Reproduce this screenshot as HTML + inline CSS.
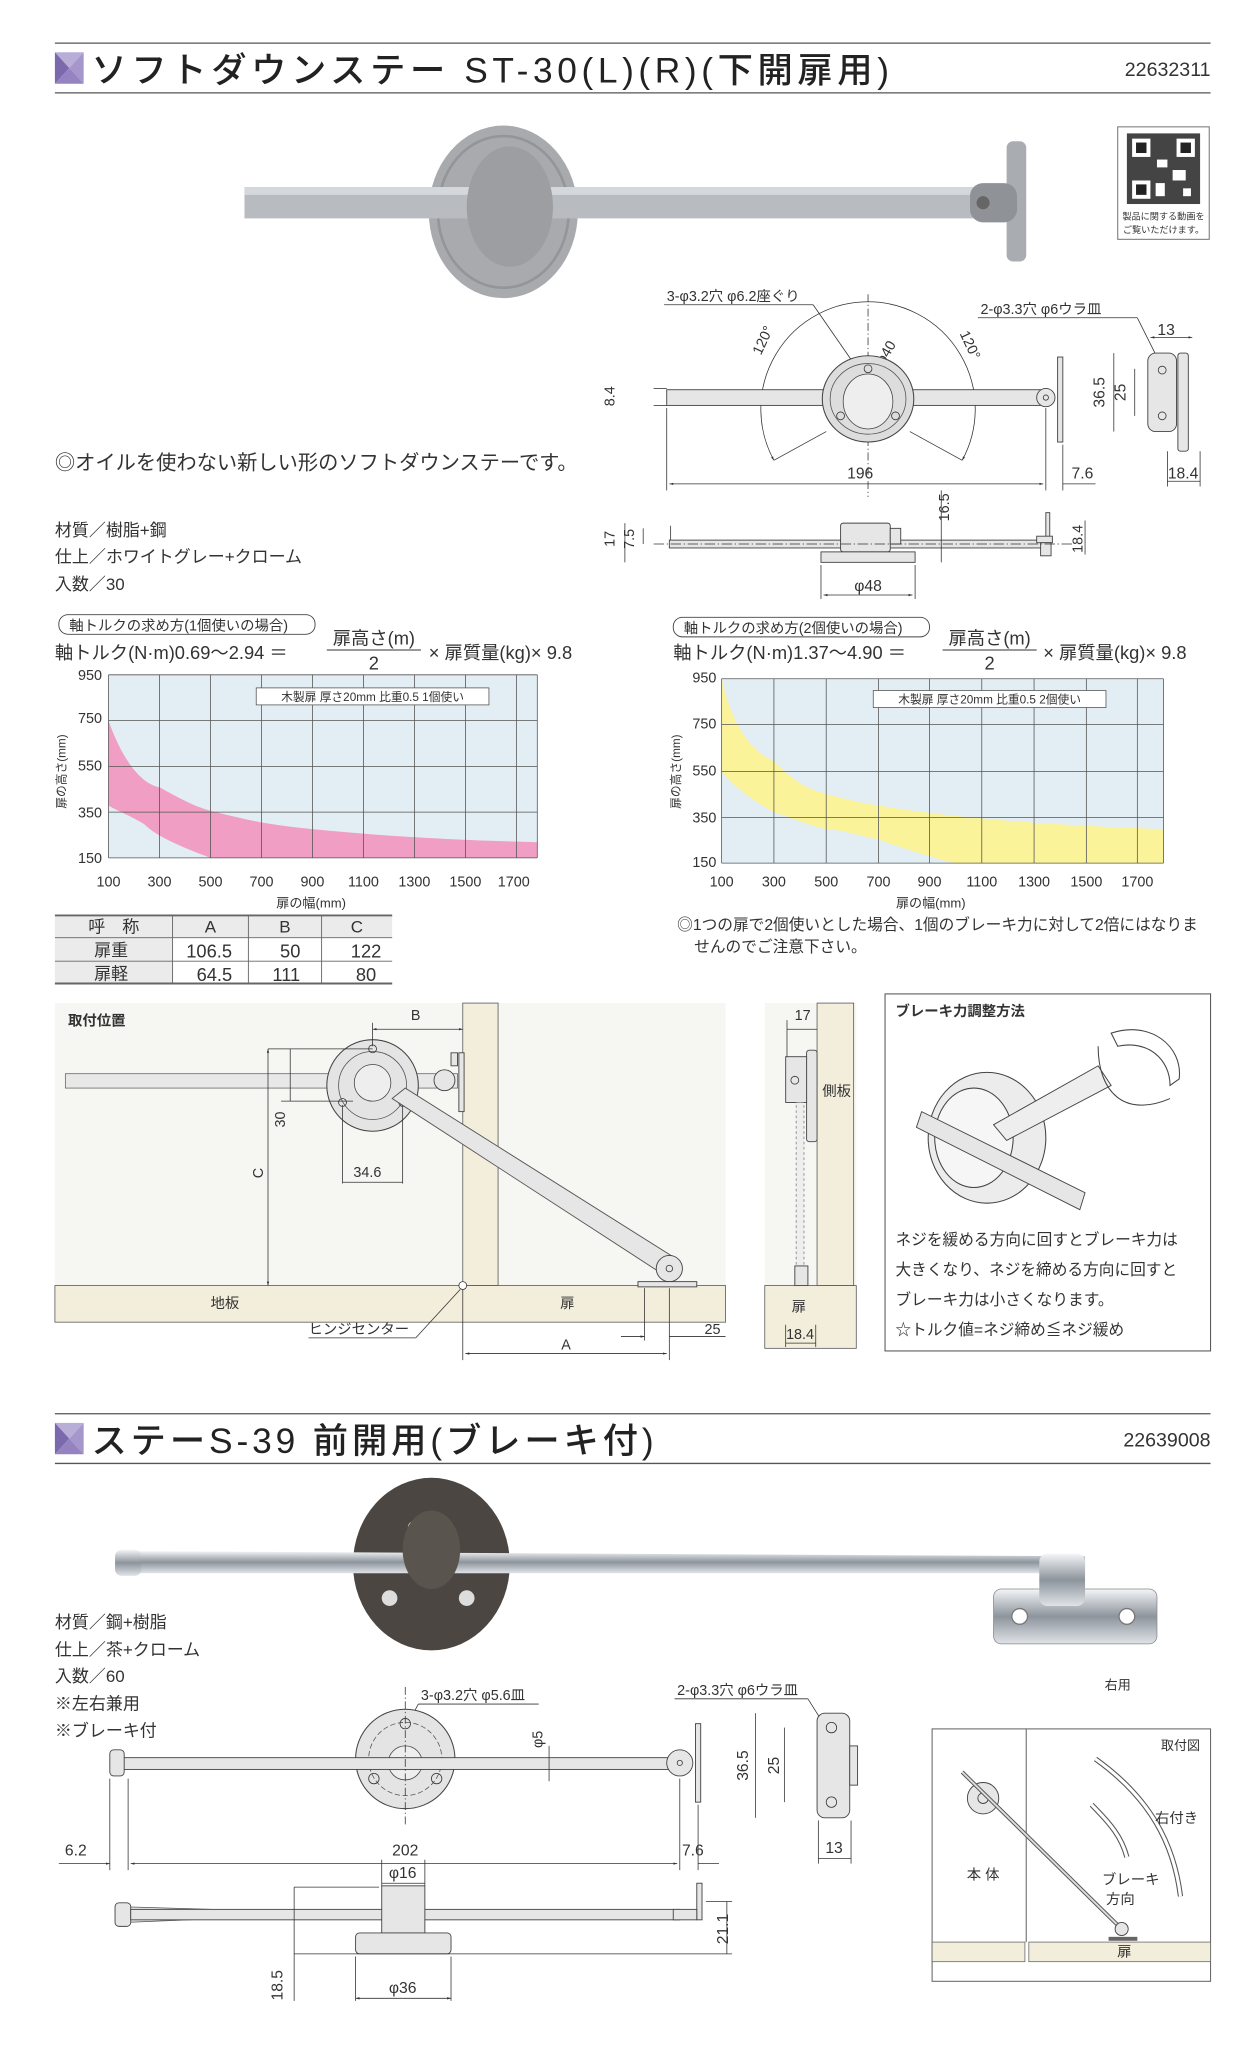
<!DOCTYPE html>
<html><head><meta charset="utf-8"><style>
html,body{margin:0;padding:0;background:#fff}
svg{display:block}
text{font-family:"Liberation Sans","Noto Sans CJK JP",sans-serif;fill:#333}
.d{stroke:#333;stroke-width:.6;fill:none}
.p{fill:#e6e6e6;stroke:#444;stroke-width:.7}
</style></head><body>
<svg width="1255" height="2048" viewBox="0 0 960 1566" preserveAspectRatio="none" xmlns="http://www.w3.org/2000/svg">
<defs>
<linearGradient id="chr" x1="0" y1="0" x2="0" y2="1"><stop offset="0" stop-color="#f4f6f8"/><stop offset=".5" stop-color="#8d949c"/><stop offset="1" stop-color="#e0e4e8"/></linearGradient>
<marker id="a" viewBox="0 0 10 10" refX="10" refY="5" markerWidth="5" markerHeight="5" orient="auto-start-reverse"><path d="M0,2L10,5L0,8z" fill="#333"/></marker>
</defs>
<!-- HEADER 1 -->
<line x1="42" y1="33" x2="926" y2="33" stroke="#555" stroke-width="1"/>
<line x1="42" y1="71" x2="926" y2="71" stroke="#555" stroke-width="1"/>
<polygon points="42,40 64,40 53,52" fill="#b9aed8"/><polygon points="42,40 53,52 42,64" fill="#7c68ad"/><polygon points="64,40 64,64 53,52" fill="#a596cc"/><polygon points="42,64 64,64 53,52" fill="#9483c0"/>
<text x="70" y="63" font-size="27" textLength="610" lengthAdjust="spacing" style="fill:#222;font-weight:500">ソフトダウンステー ST-30(L)(R)(下開扉用)</text>
<text x="926" y="58" font-size="15" text-anchor="end">22632311</text>
<!-- PHOTO 1 -->
<ellipse cx="385" cy="162" rx="57" ry="66" fill="#a8aaad"/>
<ellipse cx="385" cy="162" rx="50" ry="58" fill="none" stroke="#939598" stroke-width="2"/>
<rect x="187" y="143" width="585" height="24" fill="#b8bcc1"/>
<rect x="187" y="143" width="585" height="6" fill="#d4d7db"/>
<ellipse cx="390" cy="158" rx="33" ry="46" fill="#9c9ea1"/>
<rect x="770" y="108" width="15" height="92" rx="5" fill="#a9adb2"/>
<rect x="742" y="140" width="36" height="30" rx="10" fill="#8f9398"/>
<circle cx="752" cy="155" r="5" fill="#666"/>
<!-- QR -->
<rect x="855" y="97" width="70" height="86" fill="#fff" stroke="#777" stroke-width=".8"/>
<rect x="862" y="102" width="56" height="54" fill="#444"/>
<rect x="866" y="106" width="14" height="14" fill="#fff"/><rect x="900" y="106" width="14" height="14" fill="#fff"/><rect x="866" y="138" width="14" height="14" fill="#fff"/>
<rect x="869" y="109" width="8" height="8" fill="#222"/><rect x="903" y="109" width="8" height="8" fill="#222"/><rect x="869" y="141" width="8" height="8" fill="#222"/>
<rect x="885" y="122" width="8" height="6" fill="#fff"/><rect x="897" y="130" width="10" height="8" fill="#fff"/><rect x="884" y="140" width="7" height="10" fill="#fff"/><rect x="905" y="144" width="6" height="6" fill="#fff"/>
<text x="890" y="168" font-size="7" text-anchor="middle">製品に関する動画を</text>
<text x="890" y="178" font-size="7" text-anchor="middle">ご覧いただけます。</text>
<!-- TECH DRAWING 1 -->
<text x="510" y="230" font-size="11">3-φ3.2穴 φ6.2座ぐり</text>
<line x1="508" y1="233" x2="622" y2="233" class="d"/><line x1="622" y1="233" x2="658" y2="285" class="d"/>
<path d="M592,352 A82,82 0 1 1 736,352" class="d" marker-start="url(#a)" marker-end="url(#a)"/>
<line x1="592" y1="352" x2="632" y2="330" class="d"/><line x1="736" y1="352" x2="696" y2="330" class="d"/>
<line x1="664" y1="225" x2="664" y2="380" class="d" stroke-dasharray="6,2,1,2"/>
<text x="582" y="272" font-size="11" transform="rotate(-65 582 272)">120°</text>
<text x="734" y="255" font-size="11" transform="rotate(65 734 255)">120°</text>
<text x="676" y="280" font-size="11" transform="rotate(-60 676 280)">φ40</text>
<rect x="510" y="298" width="290" height="12" class="p"/>
<ellipse cx="664" cy="305" rx="35" ry="33" fill="#ddd" stroke="#444" stroke-width=".8"/>
<ellipse cx="664" cy="305" rx="29" ry="27" fill="none" stroke="#555" stroke-width=".6"/>
<ellipse cx="664" cy="307" rx="19" ry="21" fill="#eee" stroke="#444" stroke-width=".6"/>
<circle cx="664" cy="282" r="3" class="d"/><circle cx="643" cy="318" r="3" class="d"/><circle cx="685" cy="318" r="3" class="d"/>
<circle cx="800" cy="304" r="7" class="p"/><circle cx="800" cy="304" r="2" class="d"/>
<rect x="809" y="273" width="4" height="65" class="p"/>
<line x1="500" y1="297" x2="510" y2="297" class="d"/><line x1="500" y1="310" x2="510" y2="310" class="d"/>
<text x="470" y="303" font-size="11" transform="rotate(-90 470 303)" text-anchor="middle">8.4</text>
<line x1="510" y1="312" x2="510" y2="375" class="d"/><line x1="800" y1="312" x2="800" y2="375" class="d"/><line x1="813" y1="340" x2="813" y2="375" class="d"/>
<line x1="512" y1="370" x2="798" y2="370" class="d" marker-start="url(#a)" marker-end="url(#a)"/><line x1="813" y1="370" x2="838" y2="370" class="d"/>
<text x="658" y="366" font-size="12" text-anchor="middle">196</text><text x="828" y="366" font-size="12" text-anchor="middle">7.6</text>
<text x="750" y="240" font-size="11">2-φ3.3穴 φ6ウラ皿</text>
<line x1="748" y1="243" x2="870" y2="243" class="d"/><line x1="870" y1="243" x2="890" y2="283" class="d"/>
<rect x="878" y="270" width="22" height="60" rx="6" class="p"/>
<rect x="901" y="270" width="8" height="75" rx="2" class="p"/>
<circle cx="889" cy="283" r="3" class="d"/><circle cx="889" cy="318" r="3" class="d"/>
<line x1="880" y1="258" x2="912" y2="258" class="d" marker-start="url(#a)" marker-end="url(#a)"/><text x="892" y="256" font-size="12" text-anchor="middle">13</text>
<line x1="852" y1="270" x2="852" y2="330" class="d"/><text x="845" y="300" font-size="12" transform="rotate(-90 845 300)" text-anchor="middle">36.5</text>
<line x1="868" y1="282" x2="868" y2="318" class="d"/><text x="861" y="300" font-size="12" transform="rotate(-90 861 300)" text-anchor="middle">25</text>
<line x1="893" y1="345" x2="893" y2="372" class="d"/><line x1="918" y1="345" x2="918" y2="372" class="d"/><line x1="893" y1="368" x2="918" y2="368" class="d"/><text x="905" y="366" font-size="12" text-anchor="middle">18.4</text>
<!-- side elevation -->
<path d="M513,402 L513,418 L628,418" class="d"/>
<rect x="512" y="413" width="290" height="6" class="p"/>
<rect x="643" y="400" width="38" height="22" rx="2" class="p"/><rect x="681" y="404" width="8" height="12" class="p"/>
<rect x="628" y="422" width="72" height="8" class="p"/>
<rect x="800" y="392" width="3" height="22" class="p"/><rect x="793" y="410" width="12" height="5" class="p"/><rect x="796" y="415" width="8" height="10" class="p"/>
<line x1="500" y1="416" x2="820" y2="416" class="d" stroke-dasharray="8,2,1,2"/>
<text x="470" y="412" font-size="11" transform="rotate(-90 470 412)" text-anchor="middle">17</text>
<text x="485" y="412" font-size="11" transform="rotate(-90 485 412)" text-anchor="middle">7.5</text>
<line x1="478" y1="400" x2="478" y2="430" class="d"/><line x1="492" y1="404" x2="492" y2="416" class="d"/>
<line x1="720" y1="375" x2="720" y2="430" class="d"/><text x="726" y="388" font-size="11" transform="rotate(-90 726 388)" text-anchor="middle">16.5</text>
<line x1="830" y1="398" x2="830" y2="424" class="d"/><text x="828" y="412" font-size="11" transform="rotate(-90 828 412)" text-anchor="middle">18.4</text>
<line x1="628" y1="432" x2="628" y2="458" class="d"/><line x1="700" y1="432" x2="700" y2="458" class="d"/><line x1="630" y1="455" x2="698" y2="455" class="d" marker-start="url(#a)" marker-end="url(#a)"/>
<text x="664" y="452" font-size="12" text-anchor="middle">φ48</text>
<!-- TEXT -->
<text x="42" y="359" font-size="15.5">◎オイルを使わない新しい形のソフトダウンステーです。</text>
<text x="42" y="410" font-size="13">材質／樹脂+鋼</text>
<text x="42" y="430" font-size="13">仕上／ホワイトグレー+クローム</text>
<text x="42" y="451" font-size="13">入数／30</text>
<!-- FORMULA 1 -->
<rect x="45" y="470" width="196" height="15" rx="7" fill="#fff" stroke="#444" stroke-width=".7"/>
<text x="53" y="482" font-size="11">軸トルクの求め方(1個使いの場合)</text>
<text x="42" y="504" font-size="14">軸トルク(N·m)0.69～2.94 ＝</text>
<text x="286" y="493" font-size="14" text-anchor="middle">扉高さ(m)</text><line x1="250" y1="497" x2="322" y2="497" stroke="#333" stroke-width=".8"/><text x="286" y="512" font-size="14" text-anchor="middle">2</text>
<text x="328" y="504" font-size="14">× 扉質量(kg)× 9.8</text>
<!-- CHART 1 -->
<rect x="83" y="516" width="328" height="140" fill="#e2eef4"/>
<path d="M83,551 C95,585 110,600 122,602 C140,612 150,617 161,620 C190,627 200,630 239,634 C280,638 330,642 411,644 L411,656 L161,656 C140,648 120,640 110,630 C100,624 90,620 83,616Z" fill="#f09ec3"/>
<g stroke="#555" stroke-width=".6">
<line x1="83" y1="516" x2="411" y2="516"/><line x1="83" y1="551" x2="411" y2="551"/><line x1="83" y1="586" x2="411" y2="586"/><line x1="83" y1="621" x2="411" y2="621"/><line x1="83" y1="656" x2="411" y2="656"/>
<line x1="83" y1="516" x2="83" y2="656"/><line x1="122" y1="516" x2="122" y2="656"/><line x1="161" y1="516" x2="161" y2="656"/><line x1="200" y1="516" x2="200" y2="656"/><line x1="239" y1="516" x2="239" y2="656"/><line x1="278" y1="516" x2="278" y2="656"/><line x1="317" y1="516" x2="317" y2="656"/><line x1="356" y1="516" x2="356" y2="656"/><line x1="395" y1="516" x2="395" y2="656"/><line x1="411" y1="516" x2="411" y2="656"/>
</g>
<rect x="196" y="526" width="178" height="13" fill="#fff" stroke="#555" stroke-width=".6"/>
<text x="285" y="536" font-size="9" text-anchor="middle">木製扉 厚さ20mm 比重0.5 1個使い</text>
<g font-size="11"><text x="78" y="520" text-anchor="end" font-size="11">950</text><text x="78" y="553" text-anchor="end" font-size="11">750</text><text x="78" y="589" text-anchor="end" font-size="11">550</text><text x="78" y="625" text-anchor="end" font-size="11">350</text><text x="78" y="660" text-anchor="end" font-size="11">150</text></g>
<text x="50" y="590" font-size="9" transform="rotate(-90 50 590)" text-anchor="middle">扉の高さ(mm)</text>
<g font-size="11" text-anchor="middle"><text x="83" y="678">100</text><text x="122" y="678">300</text><text x="161" y="678">500</text><text x="200" y="678">700</text><text x="239" y="678">900</text><text x="278" y="678">1100</text><text x="317" y="678">1300</text><text x="356" y="678">1500</text><text x="393" y="678">1700</text></g>
<text x="238" y="694" font-size="10" text-anchor="middle">扉の幅(mm)</text>
<!-- FORMULA 2 -->
<rect x="515" y="472" width="196" height="15" rx="7" fill="#fff" stroke="#444" stroke-width=".7"/>
<text x="523" y="484" font-size="11">軸トルクの求め方(2個使いの場合)</text>
<text x="515" y="504" font-size="14">軸トルク(N·m)1.37～4.90 ＝</text>
<text x="757" y="493" font-size="14" text-anchor="middle">扉高さ(m)</text><line x1="721" y1="497" x2="793" y2="497" stroke="#333" stroke-width=".8"/><text x="757" y="512" font-size="14" text-anchor="middle">2</text>
<text x="798" y="504" font-size="14">× 扉質量(kg)× 9.8</text>
<!-- CHART 2 -->
<rect x="552" y="519" width="338" height="141" fill="#e2eef4"/>
<path d="M552,519 C560,555 575,575 592,582 C605,595 615,603 632,607 C650,612 660,614 672,616 C720,624 780,630 890,634 L890,660 L730,660 C700,652 690,648 672,642 C650,637 640,634 632,634 C615,630 605,625 592,621 C575,612 560,600 552,590Z" fill="#fbf39a"/>
<g stroke="#555" stroke-width=".6">
<line x1="552" y1="519" x2="890" y2="519"/><line x1="552" y1="554" x2="890" y2="554"/><line x1="552" y1="590" x2="890" y2="590"/><line x1="552" y1="625" x2="890" y2="625"/><line x1="552" y1="660" x2="890" y2="660"/>
<line x1="552" y1="519" x2="552" y2="660"/><line x1="592" y1="519" x2="592" y2="660"/><line x1="632" y1="519" x2="632" y2="660"/><line x1="672" y1="519" x2="672" y2="660"/><line x1="711" y1="519" x2="711" y2="660"/><line x1="751" y1="519" x2="751" y2="660"/><line x1="791" y1="519" x2="791" y2="660"/><line x1="831" y1="519" x2="831" y2="660"/><line x1="870" y1="519" x2="870" y2="660"/><line x1="890" y1="519" x2="890" y2="660"/>
</g>
<rect x="668" y="528" width="178" height="13" fill="#fff" stroke="#555" stroke-width=".6"/>
<text x="757" y="538" font-size="9" text-anchor="middle">木製扉 厚さ20mm 比重0.5 2個使い</text>
<g font-size="11"><text x="548" y="522" text-anchor="end" font-size="11">950</text><text x="548" y="557" text-anchor="end" font-size="11">750</text><text x="548" y="593" text-anchor="end" font-size="11">550</text><text x="548" y="629" text-anchor="end" font-size="11">350</text><text x="548" y="663" text-anchor="end" font-size="11">150</text></g>
<text x="520" y="590" font-size="9" transform="rotate(-90 520 590)" text-anchor="middle">扉の高さ(mm)</text>
<g font-size="11" text-anchor="middle"><text x="552" y="678">100</text><text x="592" y="678">300</text><text x="632" y="678">500</text><text x="672" y="678">700</text><text x="711" y="678">900</text><text x="751" y="678">1100</text><text x="791" y="678">1300</text><text x="831" y="678">1500</text><text x="870" y="678">1700</text></g>
<text x="712" y="694" font-size="10" text-anchor="middle">扉の幅(mm)</text>
<text x="518" y="711" font-size="12">◎1つの扉で2個使いとした場合、1個のブレーキ力に対して2倍にはなりま</text>
<text x="531" y="728" font-size="12">せんのでご注意下さい。</text>
<!-- TABLE -->
<rect x="42" y="700" width="258" height="52" fill="#fff"/>
<rect x="42" y="700" width="90" height="52" fill="#ebebeb"/>
<rect x="132" y="700" width="168" height="17" fill="#ebebeb"/>
<g stroke="#666" stroke-width=".7"><line x1="42" y1="700" x2="300" y2="700" stroke-width="1.5"/><line x1="42" y1="717" x2="300" y2="717"/><line x1="42" y1="735" x2="300" y2="735"/><line x1="42" y1="752" x2="300" y2="752" stroke-width="1.5"/><line x1="132" y1="700" x2="132" y2="752"/><line x1="190" y1="700" x2="190" y2="752"/><line x1="246" y1="700" x2="246" y2="752"/></g>
<g font-size="13" text-anchor="middle"><text x="87" y="713">呼　称</text><text x="161" y="713">A</text><text x="218" y="713">B</text><text x="273" y="713">C</text>
<text x="85" y="731">扉重</text><text x="160" y="732" font-size="14">106.5</text><text x="222" y="732" font-size="14">50</text><text x="280" y="732" font-size="14">122</text>
<text x="85" y="749">扉軽</text><text x="164" y="750" font-size="14">64.5</text><text x="219" y="750" font-size="14">111</text><text x="280" y="750" font-size="14">80</text></g>
<!-- MOUNT DIAGRAM -->
<rect x="42" y="767" width="513" height="216" fill="#f6f6f2"/>
<rect x="354" y="767" width="27" height="216" fill="#f2eedb" stroke="#555" stroke-width=".6"/>
<rect x="42" y="983" width="513" height="28" fill="#f2eedb" stroke="#555" stroke-width=".6"/>
<text x="52" y="784" font-size="11" font-weight="bold">取付位置</text>
<rect x="50" y="821" width="300" height="11" fill="#e8e8e8" stroke="#666" stroke-width=".6"/>
<path d="M345,805 L350,805 L350,815 L345,815Z" class="p"/>
<circle cx="340" cy="826" r="8" class="p"/>
<rect x="351" y="805" width="4" height="45" class="p"/>
<circle cx="285" cy="830" r="35" fill="#e4e4e4" stroke="#444" stroke-width=".8"/>
<circle cx="285" cy="830" r="26" fill="none" stroke="#555" stroke-width=".6"/>
<circle cx="285" cy="828" r="14" fill="#eee" stroke="#444" stroke-width=".6"/>
<circle cx="285" cy="802" r="3" class="d"/><circle cx="262" cy="843" r="3" class="d"/><circle cx="308" cy="843" r="3" class="d"/>
<polygon points="300,840 310,832 518,963 508,975" fill="#e6e6e6" stroke="#555" stroke-width=".7"/>
<circle cx="512" cy="970" r="10" class="p"/><circle cx="512" cy="970" r="2.5" class="d"/>
<rect x="488" y="980" width="45" height="4" class="p"/>
<circle cx="354" cy="983" r="3" fill="#fff" stroke="#333" stroke-width=".6"/>
<line x1="205" y1="802" x2="285" y2="802" class="d"/><line x1="205" y1="802" x2="205" y2="983" class="d" marker-start="url(#a)" marker-end="url(#a)"/><text x="201" y="897" font-size="11" transform="rotate(-90 201 897)" text-anchor="middle">C</text>
<line x1="222" y1="802" x2="222" y2="842" class="d"/><text x="218" y="856" font-size="11" transform="rotate(-90 218 856)" text-anchor="middle">30</text><line x1="215" y1="842" x2="270" y2="842" class="d"/>
<line x1="285" y1="787" x2="354" y2="787" class="d" marker-start="url(#a)" marker-end="url(#a)"/><line x1="285" y1="782" x2="285" y2="800" class="d"/><text x="318" y="780" font-size="11" text-anchor="middle">B</text>
<line x1="262" y1="845" x2="262" y2="905" class="d"/><line x1="308" y1="845" x2="308" y2="905" class="d"/><line x1="262" y1="904" x2="308" y2="904" class="d"/><text x="281" y="900" font-size="11" text-anchor="middle">34.6</text>
<text x="172" y="1000" font-size="11" text-anchor="middle">地板</text><text x="434" y="1000" font-size="11" text-anchor="middle">扉</text>
<text x="236" y="1020" font-size="11">ヒンジセンター</text><line x1="236" y1="1023" x2="318" y2="1023" class="d"/><line x1="318" y1="1023" x2="352" y2="986" class="d"/>
<line x1="354" y1="986" x2="354" y2="1040" class="d"/><line x1="512" y1="985" x2="512" y2="1040" class="d"/><line x1="356" y1="1035" x2="510" y2="1035" class="d" marker-start="url(#a)" marker-end="url(#a)"/><text x="433" y="1032" font-size="11" text-anchor="middle">A</text>
<line x1="493" y1="985" x2="493" y2="1025" class="d"/><line x1="475" y1="1022" x2="493" y2="1022" class="d" marker-end="url(#a)"/><line x1="512" y1="1022" x2="555" y2="1022" class="d"/><text x="545" y="1020" font-size="11" text-anchor="middle">25</text>
<!-- side view -->
<rect x="585" y="767" width="70" height="264" fill="#f6f6f2"/>
<rect x="625" y="767" width="28" height="216" fill="#f2eedb" stroke="#555" stroke-width=".6"/>
<rect x="585" y="983" width="70" height="48" fill="#f2eedb" stroke="#555" stroke-width=".6"/>
<rect x="617" y="803" width="8" height="70" rx="2" class="p"/><rect x="601" y="808" width="16" height="35" class="p"/><circle cx="608" cy="826" r="3" class="d"/>
<rect x="609" y="843" width="6" height="130" fill="#eee" stroke="#666" stroke-width=".5" stroke-dasharray="2,2"/>
<rect x="608" y="968" width="10" height="15" class="p"/>
<line x1="602" y1="787" x2="625" y2="787" class="d"/><line x1="602" y1="780" x2="602" y2="808" class="d"/><text x="614" y="780" font-size="11" text-anchor="middle">17</text>
<text x="640" y="838" font-size="11" text-anchor="middle">側板</text><text x="611" y="1003" font-size="11" text-anchor="middle">扉</text>
<line x1="601" y1="1013" x2="601" y2="1030" class="d"/><line x1="624" y1="1013" x2="624" y2="1030" class="d"/><line x1="601" y1="1027" x2="624" y2="1027" class="d"/><text x="612" y="1024" font-size="11" text-anchor="middle">18.4</text>
<!-- brake box -->
<rect x="677" y="760" width="249" height="273" fill="#fff" stroke="#555" stroke-width=".8"/>
<text x="685" y="777" font-size="11" font-weight="bold">ブレーキ力調整方法</text>
<ellipse cx="755" cy="870" rx="45" ry="50" fill="#ececec" stroke="#444" stroke-width=".8"/>
<ellipse cx="745" cy="870" rx="30" ry="38" fill="#f6f6f6" stroke="#444" stroke-width=".8"/>
<polygon points="705,850 830,912 826,925 701,862" fill="#e6e6e6" stroke="#444" stroke-width=".7"/>
<polygon points="760,860 840,815 850,830 770,872" fill="#eee" stroke="#444" stroke-width=".7"/>
<path d="M850,790 C880,780 905,800 902,825 L895,830 C895,810 878,795 855,800Z" fill="#fff" stroke="#444" stroke-width=".8"/>
<path d="M840,800 C840,835 860,855 895,840" fill="none" stroke="#444" stroke-width=".8"/>
<g font-size="12"><text x="685" y="952">ネジを緩める方向に回すとブレーキ力は</text><text x="685" y="975">大きくなり、ネジを締める方向に回すと</text><text x="685" y="998">ブレーキ力は小さくなります。</text><text x="685" y="1021">☆トルク値=ネジ締め≦ネジ緩め</text></g>
<!-- HEADER 2 -->
<line x1="42" y1="1081" x2="926" y2="1081" stroke="#555" stroke-width="1"/>
<line x1="42" y1="1119" x2="926" y2="1119" stroke="#555" stroke-width="1"/>
<polygon points="42,1088 64,1088 53,1100" fill="#b9aed8"/><polygon points="42,1088 53,1100 42,1112" fill="#7c68ad"/><polygon points="64,1088 64,1112 53,1100" fill="#a596cc"/><polygon points="42,1112 64,1112 53,1100" fill="#9483c0"/>
<text x="70" y="1111" font-size="27" textLength="430" lengthAdjust="spacing" style="fill:#222;font-weight:500">ステーS-39 前開用(ブレーキ付)</text>
<text x="926" y="1106" font-size="15" text-anchor="end">22639008</text>
<!-- PHOTO 2 -->
<ellipse cx="330" cy="1196" rx="60" ry="66" fill="#4b4641"/>
<circle cx="317" cy="1168" r="5" fill="#ddd"/><circle cx="298" cy="1222" r="6" fill="#ddd"/><circle cx="357" cy="1222" r="6" fill="#ddd"/>
<rect x="760" y="1215" width="125" height="42" rx="6" fill="url(#chr)" stroke="#888" stroke-width=".6"/>
<circle cx="780" cy="1236" r="6" fill="#fff" stroke="#777"/><circle cx="862" cy="1236" r="6" fill="#fff" stroke="#777"/>
<polygon points="95,1186 830,1190 830,1203 95,1203" fill="url(#chr)"/>
<rect x="88" y="1185" width="20" height="20" rx="5" fill="url(#chr)"/>
<rect x="795" y="1188" width="35" height="40" rx="6" fill="url(#chr)"/>
<ellipse cx="330" cy="1185" rx="22" ry="30" fill="#5a544e"/>
<text x="42" y="1245" font-size="13">材質／鋼+樹脂</text>
<text x="42" y="1266" font-size="13">仕上／茶+クローム</text>
<text x="42" y="1286" font-size="13">入数／60</text>
<text x="42" y="1307" font-size="13">※左右兼用</text>
<text x="42" y="1328" font-size="13">※ブレーキ付</text>
<text x="855" y="1292" font-size="10" text-anchor="middle">右用</text>
<!-- TECH DRAWING 2 -->
<text x="322" y="1300" font-size="11">3-φ3.2穴 φ5.6皿</text><line x1="320" y1="1303" x2="412" y2="1303" class="d"/><line x1="320" y1="1303" x2="312" y2="1318" class="d"/>
<circle cx="310" cy="1345" r="38" fill="#e4e4e4" stroke="#444" stroke-width=".8"/>
<circle cx="310" cy="1345" r="28" fill="none" stroke="#555" stroke-width=".6" stroke-dasharray="4,2"/>
<circle cx="310" cy="1348" r="13" fill="#eee" stroke="#444" stroke-width=".6"/>
<circle cx="310" cy="1318" r="4" class="d"/><circle cx="286" cy="1360" r="4" class="d"/><circle cx="334" cy="1360" r="4" class="d"/>
<rect x="93" y="1344" width="420" height="9" class="p"/>
<rect x="84" y="1338" width="11" height="20" rx="3" class="p"/>
<circle cx="520" cy="1348" r="10" class="p"/><circle cx="520" cy="1348" r="2" class="d"/>
<rect x="532" y="1318" width="4" height="60" class="p"/>
<line x1="310" y1="1290" x2="310" y2="1395" class="d" stroke-dasharray="6,2,1,2"/>
<line x1="420" y1="1335" x2="420" y2="1362" class="d"/><text x="415" y="1330" font-size="11" transform="rotate(-90 415 1330)" text-anchor="middle">φ5</text>
<line x1="98" y1="1360" x2="98" y2="1430" class="d"/><line x1="84" y1="1360" x2="84" y2="1430" class="d"/><line x1="520" y1="1360" x2="520" y2="1430" class="d"/><line x1="534" y1="1380" x2="534" y2="1430" class="d"/>
<line x1="45" y1="1425" x2="84" y2="1425" class="d" marker-end="url(#a)"/><line x1="100" y1="1425" x2="518" y2="1425" class="d" marker-start="url(#a)" marker-end="url(#a)"/><line x1="534" y1="1425" x2="550" y2="1425" class="d"/>
<text x="58" y="1419" font-size="12" text-anchor="middle">6.2</text><text x="310" y="1419" font-size="12" text-anchor="middle">202</text><text x="530" y="1419" font-size="12" text-anchor="middle">7.6</text>
<text x="518" y="1296" font-size="11">2-φ3.3穴 φ6ウラ皿</text><line x1="516" y1="1299" x2="618" y2="1299" class="d"/><line x1="618" y1="1299" x2="630" y2="1318" class="d"/>
<rect x="625" y="1310" width="25" height="80" rx="6" class="p"/><rect x="650" y="1335" width="6" height="30" class="p"/>
<circle cx="636" cy="1321" r="4" class="d"/><circle cx="636" cy="1378" r="4" class="d"/>
<line x1="578" y1="1310" x2="578" y2="1390" class="d"/><text x="572" y="1350" font-size="12" transform="rotate(-90 572 1350)" text-anchor="middle">36.5</text>
<line x1="600" y1="1321" x2="600" y2="1378" class="d"/><text x="596" y="1350" font-size="12" transform="rotate(-90 596 1350)" text-anchor="middle">25</text>
<line x1="626" y1="1392" x2="626" y2="1425" class="d"/><line x1="651" y1="1392" x2="651" y2="1425" class="d"/><line x1="626" y1="1421" x2="651" y2="1421" class="d"/><text x="638" y="1417" font-size="12" text-anchor="middle">13</text>
<!-- side 2 -->
<polygon points="95,1458 265,1463 95,1470" fill="#e6e6e6" stroke="#555" stroke-width=".6"/>
<rect x="88" y="1455" width="12" height="18" rx="3" class="p"/>
<rect x="100" y="1460" width="420" height="8" class="p"/>
<rect x="292" y="1442" width="33" height="36" class="p"/>
<rect x="272" y="1478" width="73" height="16" rx="3" class="p"/>
<rect x="533" y="1440" width="4" height="28" class="p"/><rect x="515" y="1460" width="18" height="8" class="p"/>
<line x1="292" y1="1422" x2="292" y2="1442" class="d"/><line x1="325" y1="1422" x2="325" y2="1442" class="d"/><line x1="292" y1="1440" x2="325" y2="1440" class="d"/><text x="308" y="1436" font-size="12" text-anchor="middle">φ16</text>
<line x1="272" y1="1496" x2="272" y2="1530" class="d"/><line x1="345" y1="1496" x2="345" y2="1530" class="d"/><line x1="272" y1="1528" x2="345" y2="1528" class="d" marker-start="url(#a)" marker-end="url(#a)"/><text x="308" y="1524" font-size="12" text-anchor="middle">φ36</text>
<line x1="225" y1="1443" x2="290" y2="1443" class="d"/><line x1="225" y1="1494" x2="560" y2="1494" class="d"/><line x1="225" y1="1443" x2="225" y2="1530" class="d"/><text x="216" y="1518" font-size="12" transform="rotate(-90 216 1518)" text-anchor="middle">18.5</text>
<line x1="540" y1="1454" x2="560" y2="1454" class="d"/><line x1="556" y1="1454" x2="556" y2="1494" class="d"/><text x="557" y="1475" font-size="12" transform="rotate(-90 557 1475)" text-anchor="middle">21.1</text>
<!-- mount fig 2 -->
<rect x="713" y="1322" width="213" height="193" fill="#fff" stroke="#666" stroke-width=".8"/>
<line x1="785" y1="1322" x2="785" y2="1485" stroke="#666" stroke-width=".8"/>
<rect x="713" y="1485" width="71" height="15" fill="#f2eedb" stroke="#666" stroke-width=".6"/>
<rect x="787" y="1485" width="139" height="15" fill="#f2eedb" stroke="#666" stroke-width=".6"/>
<text x="903" y="1338" font-size="10" text-anchor="middle">取付図</text>
<circle cx="752" cy="1375" r="12" fill="#e6e6e6" stroke="#444" stroke-width=".7"/><circle cx="752" cy="1375" r="4" class="d"/>
<line x1="736" y1="1355" x2="858" y2="1475" stroke="#555" stroke-width="3"/>
<line x1="736" y1="1355" x2="858" y2="1475" stroke="#ddd" stroke-width="1.5"/>
<circle cx="858" cy="1475" r="5" class="p"/><rect x="848" y="1481" width="22" height="3" fill="#666"/>
<path d="M838,1345 C880,1375 898,1410 903,1450" fill="none" stroke="#555" stroke-width="4"/>
<path d="M838,1345 C880,1375 898,1410 903,1450" fill="none" stroke="#fff" stroke-width="2.4"/>
<path d="M835,1380 C850,1395 858,1405 862,1420" fill="none" stroke="#555" stroke-width="4"/>
<path d="M835,1380 C850,1395 858,1405 862,1420" fill="none" stroke="#fff" stroke-width="2.4"/>
<text x="752" y="1437" font-size="11" text-anchor="middle">本 体</text>
<text x="900" y="1394" font-size="11" text-anchor="middle">右付き</text>
<text x="865" y="1441" font-size="11" text-anchor="middle">ブレーキ</text><text x="857" y="1456" font-size="11" text-anchor="middle">方向</text>
<text x="860" y="1496" font-size="11" text-anchor="middle">扉</text>
</svg>
</body></html>
